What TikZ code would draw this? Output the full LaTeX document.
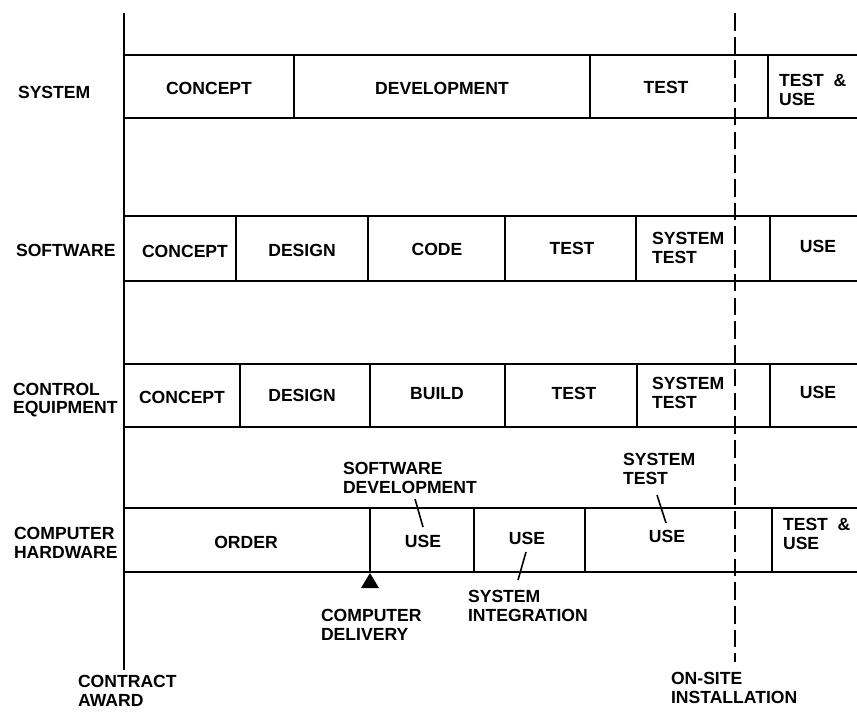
\documentclass[tikz,border=0pt]{standalone}
\usepackage{fontspec}
\setmainfont{Liberation Sans}
\usetikzlibrary{positioning}

\begin{document}
\begin{tikzpicture}[x=0.02cm,y=-0.02cm,line width=1.2pt,
  font=\fontsize{10}{10.5}\selectfont\bfseries,
  lbl/.style={inner sep=0pt,align=left},
  onsite/.style={dash pattern=on 10pt off 3.5pt}]
\useasboundingbox (0,0) rectangle (857,711);
% time lines
\coordinate (award top) at (124,13);
\coordinate (award bot) at (124,670);
\draw (award top) -- (award bot);
\coordinate (site top) at (735,13);
\coordinate (site bot) at (735,662);
\draw[onsite] (site top) -- (site bot);
% bars
\foreach \top/\bot in {55/118,216/281,364/427,508/572} {
  \draw (124,\top) -- (857,\top);
  \draw (124,\bot) -- (857,\bot);
}
\foreach \x in {294,590,768} \draw (\x,55) -- (\x,118);
\foreach \x in {236,368,505,636,770} \draw (\x,216) -- (\x,281);
\foreach \x in {240,370,505,637,770} \draw (\x,364) -- (\x,427);
\foreach \x in {370,474,585,772} \draw (\x,508) -- (\x,572);
\fill (370,573) -- (361,588) -- (379,588) -- cycle;
% row names
\node[lbl,anchor=west] (system) at (17,92) {SYSTEM};
\node[lbl,anchor=west] (software) at (15,250) {SOFTWARE};
\node[lbl,anchor=west] (control) at (12,400) {CONTROL\\EQUIPMENT};
\node[lbl,anchor=west] (hardware) at (13,543) {COMPUTER\\HARDWARE};
% system
\node[lbl] (sys concept) at (209,88) {CONCEPT};
\node[lbl] (sys devel) at (442,88) {DEVELOPMENT};
\node[lbl] (sys test) at (666,87) {TEST};
\node[lbl,anchor=west] (sys use) at (778,90) {TEST \ \&\\USE};
% software
\node[lbl] (sw concept) at (185,251) {CONCEPT};
\node[lbl] (sw design) at (302,250) {DESIGN};
\node[lbl] (sw code) at (437,249) {CODE};
\node[lbl] (sw test) at (572,248) {TEST};
\node[lbl,anchor=west] (sw systest) at (651,248) {SYSTEM\\TEST};
\node[lbl] (sw use) at (818,246) {USE};
% control equipment
\node[lbl] (ce concept) at (182,397) {CONCEPT};
\node[lbl] (ce design) at (302,395) {DESIGN};
\node[lbl] (ce build) at (437,394) {BUILD};
\node[lbl] (ce test) at (574,393) {TEST};
\node[lbl,anchor=west] (ce systest) at (651,393) {SYSTEM\\TEST};
\node[lbl] (ce use) at (818,392) {USE};
% computer hardware
\node[lbl] (hw order) at (246,542) {ORDER};
\node[lbl] (hw use1) at (423,541) {USE};
\node[lbl] (hw use2) at (527,538) {USE};
\node[lbl] (hw use3) at (667,536) {USE};
\node[lbl,anchor=west] (hw use4) at (782,534) {TEST \ \&\\USE};
% notes
\node[lbl,anchor=west] (swdev) at (342,478) {SOFTWARE\\DEVELOPMENT};
\node[lbl,anchor=west] (systest) at (622,469) {SYSTEM\\TEST};
\node[lbl,anchor=west] (sysint) at (467,606) {SYSTEM\\INTEGRATION};
\node[lbl,anchor=west] (delivery) at (320,625) {COMPUTER\\DELIVERY};
\node[lbl,anchor=west] (award) at (77,691) {CONTRACT\\AWARD};
\node[lbl,anchor=west] (install) at (670,688) {ON-SITE\\INSTALLATION};
% leaders
\coordinate (swdev end) at (415,499);
\coordinate (use1 end) at (423,527);
\draw[line width=0.9pt] (swdev end) -- (use1 end);
\coordinate (use2 end) at (526,552);
\coordinate (sysint end) at (518,580);
\draw[line width=0.9pt] (use2 end) -- (sysint end);
\coordinate (systest end) at (657,495);
\coordinate (use3 end) at (666,523);
\draw[line width=0.9pt] (systest end) -- (use3 end);
\end{tikzpicture}
\end{document}
